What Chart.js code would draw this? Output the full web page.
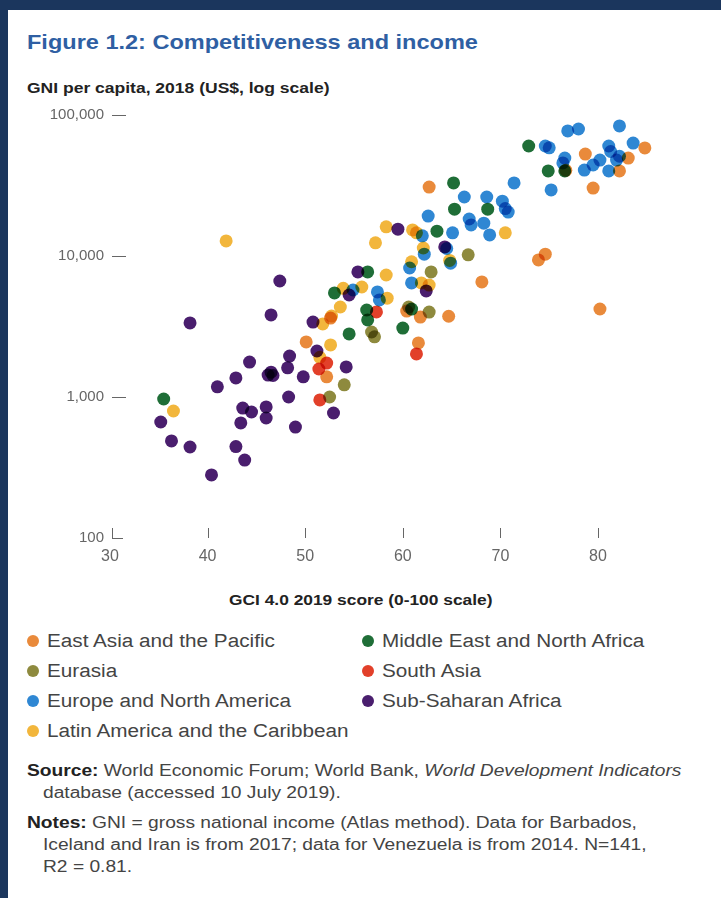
<!DOCTYPE html>
<html>
<head>
<meta charset="utf-8">
<script src="https://cdn.jsdelivr.net/npm/chart.js@4.4.1/dist/chart.umd.min.js"></script>
<style>
  html, body { margin: 0; padding: 0; }
  body { width: 721px; height: 898px; background: #1b365d; position: relative; overflow: hidden;
         font-family: "Liberation Sans", Arial, sans-serif; }
  #panel { position: absolute; left: 8px; top: 10px; width: 713px; height: 888px; background: #fff; }
  .abs { position: absolute; white-space: nowrap; transform-origin: 0 50%; }
  #title { left: 27px; top: 29px; font-size: 21px; line-height: 26px; font-weight: bold; color: #2f5fa3; transform: scaleX(1.12); }
  #ytitle { left: 27px; top: 79px; font-size: 14px; line-height: 18px; font-weight: bold; color: #222; transform: scaleX(1.25); }
  #xtitle { left: 229px; top: 591px; font-size: 14px; line-height: 18px; font-weight: bold; color: #222; transform: scaleX(1.24); }
  #chartBox { position: absolute; left: 0; top: 100px; width: 721px; height: 480px; }
  .leg { font-size: 18px; line-height: 22px; color: #444; transform: scaleX(1.15); }
  .dot { position: absolute; width: 12px; height: 12px; border-radius: 50%; }
  .note { font-size: 16px; line-height: 22px; color: #444; transform: scaleX(1.2); }
  .note b { color: #222; }
</style>
</head>
<body>
<div id="panel"></div>
<div id="title" class="abs">Figure 1.2: Competitiveness and income</div>
<div id="ytitle" class="abs">GNI per capita, 2018 (US$, log scale)</div>
<div id="chartBox"><canvas id="chart" width="721" height="480"></canvas></div>
<div id="xtitle" class="abs">GCI 4.0 2019 score (0-100 scale)</div>
<div id="legend"></div>
<div class="abs note" style="left:27px; top:760px;"><b>Source:</b> World Economic Forum; World Bank, <i>World Development Indicators</i></div>
<div class="abs note" style="left:43px; top:782px;">database (accessed 10 July 2019).</div>
<div class="abs note" style="left:27px; top:812px;"><b>Notes:</b> GNI = gross national income (Atlas method). Data for Barbados,</div>
<div class="abs note" style="left:43px; top:834px;">Iceland and Iran is from 2017; data for Venezuela is from 2014. N=141,</div>
<div class="abs note" style="left:43px; top:856px;">R2 = 0.81.</div>

<script>
'use strict';

// ***** DATA *****
const regionNames = ['East Asia and the Pacific', 'Eurasia', 'Europe and North America',
  'Latin America and the Caribbean', 'Middle East and North Africa', 'South Asia', 'Sub-Saharan Africa'];
const regionColors = ['#e98a3b', '#8e8a3e', '#2f87d3', '#f2b63c', '#1f6e37', '#e2402a', '#4a1e6e'];

const xTickValues = [30, 40, 50, 60, 70, 80];
const yTickValues = [100, 1000, 10000, 100000];

// GCI score (x) and GNI per capita (y) by region
const eastAsiaX = [50.1, 52.6, 52.2, 60.4, 61.8, 61.6, 64.7, 62.7, 68.1, 73.9, 74.6, 80.2, 78.7, 79.5, 82.2, 83.1, 84.8, 76.7];
const eastAsiaY = [2460, 3630, 1390, 4070, 3690, 2420, 3740, 30800, 6550, 9380, 10300, 4210, 52800, 30300, 40100, 49500, 58400, 40500];

const eurasiaX = [54.0, 52.5, 56.8, 57.1, 62.7, 62.9, 66.7, 60.6];
const eurasiaY = [1220, 1000, 2890, 2670, 4000, 7710, 10200, 4350];

const europeX = [54.9, 57.4, 57.6, 60.7, 60.9, 62.2, 62.0, 62.6, 64.9, 65.1, 64.5, 66.3, 66.8, 67.0, 68.3, 68.9, 68.6, 70.2, 70.8, 70.5,
  71.4, 75.2, 74.6, 75.0, 76.4, 76.6, 76.9, 78.0, 78.6, 79.5, 80.2, 81.1, 81.3, 81.1, 81.9, 82.2, 82.2, 83.6];
const europeY = [5740, 5560, 4880, 8220, 6440, 10300, 13900, 19200, 8900, 14600, 11300, 26200, 18300, 16600, 17100, 14100, 26200, 24500, 20500, 21700,
  33000, 29400, 60300, 58500, 45700, 49500, 77100, 79600, 40700, 44200, 47900, 60300, 55100, 40100, 47900, 51000, 83600, 63200];

const latinX = [36.5, 41.9, 52.6, 51.8, 53.6, 53.9, 55.8, 57.2, 58.3, 58.3, 58.4, 60.9, 61.4, 62.1, 61.9, 62.7, 70.5, 64.8, 52.7, 51.5, 61.0];
const latinY = [796, 12800, 2340, 3300, 4350, 5900, 6030, 12400, 16100, 7330, 5020, 9100, 14600, 11400, 6440, 6220, 14600, 9300, 3750, 1910, 15300];

const menaX = [35.5, 53.0, 54.5, 56.4, 56.3, 56.4, 60.0, 60.9, 63.5, 65.3, 65.2, 68.7, 72.9, 74.9, 76.6];
const menaY = [968, 5470, 2800, 3520, 4140, 7710, 3080, 4200, 15000, 21500, 33000, 21500, 60300, 40100, 40100];

const southAsiaX = [52.2, 51.4, 51.5, 57.3, 61.4];
const southAsiaY = [1740, 1580, 953, 4010, 2020];

const ssaX = [38.2, 46.5, 47.4, 50.8, 48.4, 44.3, 48.2, 42.9, 46.2, 46.7, 49.8, 41.0, 48.3, 43.6, 44.5, 46.0, 46.0, 43.4, 35.2, 49.0,
  36.3, 38.2, 42.9, 43.8, 40.4, 51.2, 54.2, 52.9, 54.5, 55.4, 59.5, 62.4, 64.3, 46.5];
const ssaY = [3350, 3820, 6650, 3400, 1950, 1770, 1610, 1365, 1430, 1420, 1390, 1180, 1000, 835, 783, 850, 710, 655, 665, 612,
  488, 442, 445, 357, 280, 2120, 1635, 770, 5290, 7710, 15500, 5650, 11600, 1500];

const seriesX = [eastAsiaX, eurasiaX, europeX, latinX, menaX, southAsiaX, ssaX];
const seriesY = [eastAsiaY, eurasiaY, europeY, latinY, menaY, southAsiaY, ssaY];

// ***** HELPERS *****
function toPoints(xs, ys) {
  let pts = [];
  for (let i = 0; i < xs.length; i++) {
    pts.push({ x: xs[i], y: ys[i] });
  }
  return pts;
}

function renderLegend() {
  let legend = document.getElementById('legend');
  // two columns, like the original figure
  let rowCenters = [641, 671, 701, 731];
  for (let i = 0; i < regionNames.length; i++) {
    let col = i < 4 ? 0 : 1;
    let row = i < 4 ? i : i - 4;
    let item = document.createElement('div');
    item.className = 'abs leg';
    item.style.left = (col === 0 ? 47 : 382) + 'px';
    item.style.top = (rowCenters[row] - 11) + 'px';
    item.textContent = regionNames[i];
    let dot = document.createElement('span');
    dot.className = 'dot';
    dot.style.background = regionColors[i];
    dot.style.left = (col === 0 ? 27 : 362) + 'px';
    dot.style.top = (rowCenters[row] - 6) + 'px';
    legend.appendChild(dot);
    legend.appendChild(item);
  }
}

// overlapping dots get darker, as in the print version
const multiplyPlugin = {
  id: 'multiply',
  beforeDatasetsDraw(chart) {
    chart.ctx.save();
    chart.ctx.globalCompositeOperation = 'multiply';
  },
  afterDatasetsDraw(chart) {
    chart.ctx.restore();
  }
};

// short tick marks pointing into the plot
const innerTicksPlugin = {
  id: 'innerTicks',
  afterDraw(chart) {
    let ctx = chart.ctx;
    let xs = chart.scales.x;
    let ys = chart.scales.y;
    let left = chart.chartArea.left;
    let bottom = chart.chartArea.bottom;
    ctx.save();
    ctx.strokeStyle = '#666';
    ctx.lineWidth = 1;
    ctx.beginPath();
    yTickValues.forEach(v => {
      let py = Math.round(ys.getPixelForValue(v)) + 0.5;
      let len = v === 100 ? 11 : 14;
      ctx.moveTo(left + 2, py);
      ctx.lineTo(left + 2 + len, py);
    });
    xTickValues.forEach(v => {
      let px = Math.round(xs.getPixelForValue(v)) + 0.5 + (v === 30 ? 2 : 0);
      ctx.moveTo(px, bottom);
      ctx.lineTo(px, bottom - 10);
    });
    ctx.stroke();
    ctx.restore();
  }
};

// ***** CHART *****
function renderChart() {
  let datasets = [];
  for (let i = 0; i < regionNames.length; i++) {
    datasets.push({
      label: regionNames[i],
      data: toPoints(seriesX[i], seriesY[i]),
      backgroundColor: regionColors[i],
      borderWidth: 0,
      pointRadius: 6.5,
      clip: false
    });
  }

  let chartObj = {
    type: 'scatter',
    data: { datasets: datasets },
    options: {
      responsive: false,
      animation: false,
      layout: { padding: { left: 0, right: 25.4, top: 15, bottom: 0 } },
      plugins: { legend: { display: false }, tooltip: { enabled: false } },
      scales: {
        x: {
          type: 'linear',
          min: 30,
          max: 90,
          afterBuildTicks: axis => { axis.ticks = xTickValues.map(v => ({ value: v })); },
          afterFit: axis => { axis.height = 42; },
          grid: { display: false, drawTicks: false },
          border: { display: false },
          ticks: { padding: 9, color: '#666', font: { size: 16, family: 'Liberation Sans' } }
        },
        y: {
          type: 'logarithmic',
          min: 100,
          max: 100000,
          afterBuildTicks: axis => { axis.ticks = yTickValues.map(v => ({ value: v })); },
          afterFit: axis => { axis.width = 110; },
          grid: { display: false, drawTicks: false },
          border: { display: false },
          ticks: {
            padding: 6,
            color: '#666',
            font: { size: 15, family: 'Liberation Sans' },
            callback: v => v.toLocaleString('en-US')
          }
        }
      }
    },
    plugins: [multiplyPlugin, innerTicksPlugin]
  };

  new Chart(document.getElementById('chart'), chartObj);
}

renderLegend();
renderChart();
</script>
</body>
</html>
